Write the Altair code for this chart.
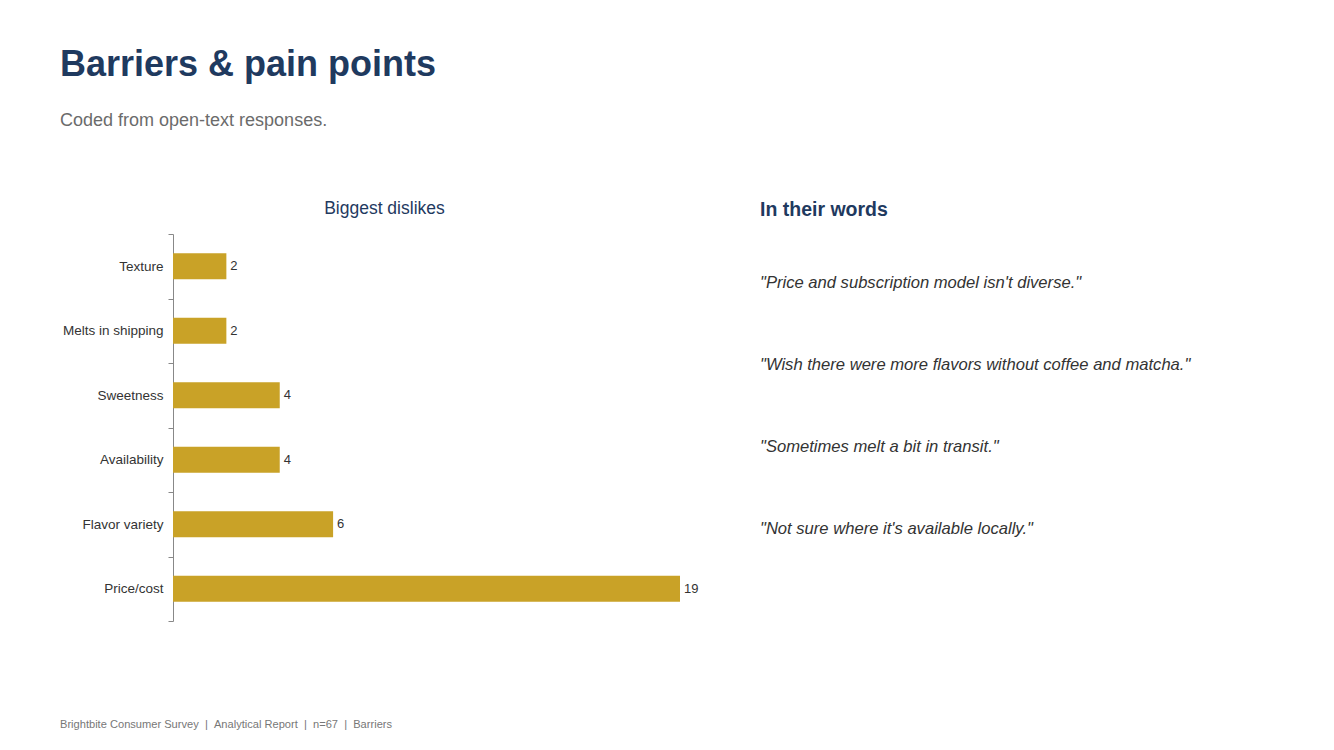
import altair as alt
import pandas as pd

# data
barriers = ["Texture", "Melts in shipping", "Sweetness", "Availability", "Flavor variety", "Price/cost"]
counts = [2, 2, 4, 4, 6, 19]

quotes = [
    "\"Price and subscription model isn't diverse.\"",
    "\"Wish there were more flavors without coffee and matcha.\"",
    "\"Sometimes melt a bit in transit.\"",
    "\"Not sure where it's available locally.\"",
]

sep = "\u00a0\u00a0|\u00a0\u00a0"
footer_text = [sep.join(["Brightbite Consumer Survey", "Analytical Report", "n=67", "Barriers"])]

NAVY = "#1f3a5f"
GOLD = "#c9a227"

df = pd.DataFrame({"barrier": barriers, "count": counts})
qdf = pd.DataFrame({"quote": quotes, "order": list(range(len(quotes)))})
fdf = pd.DataFrame({"text": footer_text})

base = alt.Chart(df).encode(
    x=alt.X("count:Q", axis=None, scale=alt.Scale(domain=[0, 19], nice=False)),
    y=alt.Y(
        "barrier:N",
        sort=barriers,
        title=None,
        scale=alt.Scale(paddingInner=0, paddingOuter=0),
        axis=alt.Axis(
            labelFontSize=13.5,
            labelColor="#333333",
            domainColor="#888888",
            tickColor="#888888",
            tickSize=5,
            tickBand="extent",
            labelPadding=5,
            grid=False,
        ),
    ),
)

# thin bars inside full-step bands so the ticks fall between categories
bars = base.mark_bar(color=GOLD, height={"band": 0.4})
labels = base.mark_text(align="left", dx=4, fontSize=13, color="#333333").encode(text="count:Q")

bar_chart = alt.layer(bars, labels).properties(
    width=507,
    height=387,
    title=alt.Title(
        "Biggest dislikes", fontSize=17.5, fontWeight="normal", color=NAVY,
        anchor="middle", frame="bounds", dx=4, offset=10,
    ),
)

quote_chart = alt.Chart(qdf).mark_text(
    align="left", baseline="middle", fontSize=16.6, fontStyle="italic", color="#333333"
).encode(
    x=alt.value(0),
    y=alt.Y("order:O", axis=None, scale=alt.Scale(type="point", padding=0.6)),
    text="quote:N",
).properties(
    width=440,
    height=344,
    title=alt.Title("In their words", fontSize=19.5, fontWeight="bold", color=NAVY, anchor="start", offset=14),
)

footer = alt.Chart(fdf).mark_text(
    align="left", baseline="middle", fontSize=11.1, color="#777777", dx=-113
).encode(
    x=alt.value(0),
    y=alt.value(0),
    text="text:N",
).properties(width=10, height=10)

chart = alt.vconcat(
    alt.hconcat(bar_chart, quote_chart, spacing=61),
    footer,
    spacing=97,
).properties(
    title=alt.Title(
        "Barriers & pain points",
        subtitle="Coded from open-text responses.",
        anchor="start",
        fontSize=36,
        fontWeight="bold",
        color=NAVY,
        subtitleFontSize=18,
        subtitleColor="#6b6b6b",
        subtitlePadding=28,
        offset=69,
    ),
    padding={"left": 52, "top": 38, "right": 10, "bottom": 10},
).configure(
    font="Liberation Sans",
).configure_view(
    stroke=None,
)

chart.save("out.html", embed_options={"renderer": "svg", "actions": False})
